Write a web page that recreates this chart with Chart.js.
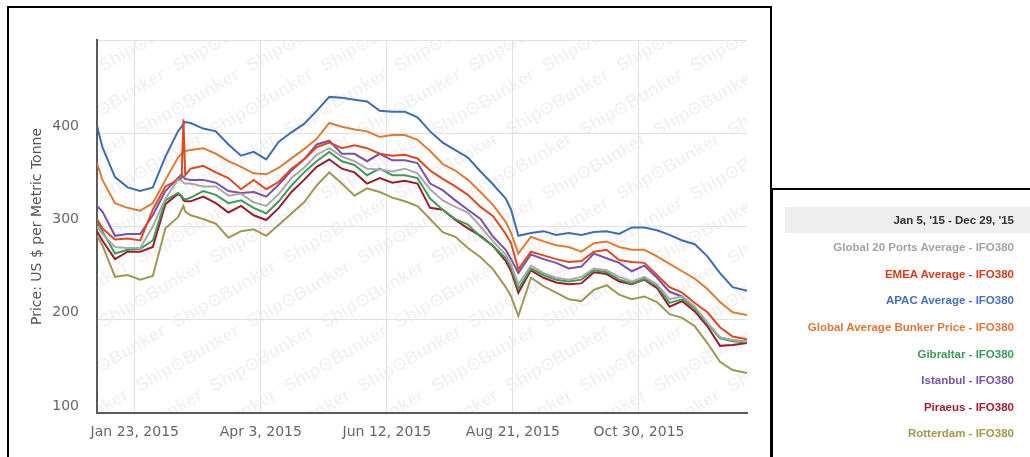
<!DOCTYPE html>
<html><head><meta charset="utf-8">
<script src="https://cdn.jsdelivr.net/npm/chart.js@4.4.1/dist/chart.umd.min.js"></script>
<style>
html,body{margin:0;padding:0;background:#fff;width:1030px;height:457px;overflow:hidden;}
#panel{position:absolute;left:7px;top:6px;width:765px;height:470px;border:2px solid #000;box-sizing:border-box;}
#wrap{position:absolute;left:0;top:0;width:772px;height:457px;}
#legend{position:absolute;left:771px;top:188px;width:270px;height:300px;border-top:2px solid #000;border-left:2px solid #000;box-sizing:border-box;background:#fff;}
#lhead{position:absolute;left:12px;top:17px;width:260px;height:26px;background:#eeeeee;}
.ltxt{position:absolute;right:27px;white-space:nowrap;font-family:"Liberation Sans",Arial,sans-serif;font-weight:bold;font-size:11.5px;line-height:14px;}
</style></head>
<body>
<div id="panel"></div>
<div id="wrap"><canvas id="c" width="772" height="457"></canvas></div>
<div id="legend"><div id="lhead"></div></div>
<script>
const dates = ['2015-01-02','2015-01-05','2015-01-12','2015-01-19','2015-01-26',
 '2015-02-02','2015-02-09','2015-02-16','2015-02-18','2015-02-19','2015-02-20','2015-02-23',
 '2015-03-02','2015-03-09','2015-03-16','2015-03-23','2015-03-30',
 '2015-04-06','2015-04-13','2015-04-20','2015-04-27',
 '2015-05-04','2015-05-11','2015-05-18','2015-05-25',
 '2015-06-01','2015-06-08','2015-06-15','2015-06-22','2015-06-29',
 '2015-07-06','2015-07-13','2015-07-20','2015-07-27',
 '2015-08-03','2015-08-10','2015-08-17','2015-08-20','2015-08-24','2015-08-31',
 '2015-09-07','2015-09-14','2015-09-21','2015-09-28',
 '2015-10-05','2015-10-12','2015-10-19','2015-10-26',
 '2015-11-02','2015-11-09','2015-11-16','2015-11-23','2015-11-30',
 '2015-12-07','2015-12-14','2015-12-21','2015-12-29'];

const global20 = [300,292,278,277,277, 300,330,350,349,347,346,346, 343,343,333,335,326, 322,335,352,363, 377,384,375,370, 362,361,359,362,357, 340,328,321,315, 300,284,270,259,238,258, 250,245,243,246, 255,253,246,241, 246,238,222,225,214, 197,181,178,177];
const emea     = [308,298,286,287,285, 318,343,350,352,415,355,362, 365,358,352,340,350, 340,348,362,372, 385,390,384,387, 384,378,376,377,373, 360,351,343,334, 321,311,292,282,254,273, 269,265,262,263, 273,275,264,262, 261,248,235,229,218, 208,192,182,179];
const apac     = [408,385,353,342,338, 342,375,402,407,410,412,411, 405,402,388,376,380, 372,391,401,410, 424,439,438,436, 434,424,423,423,417, 402,390,382,374, 359,345,330,318,290,293, 295,291,293,291, 294,295,292,299, 299,296,291,285,281, 268,250,235,231];
const globalAvg= [368,350,325,320,317, 325,350,374,378,380,381,382, 384,378,370,364,357, 356,363,373,383, 394,411,407,404, 402,396,398,398,393, 381,367,360,350, 337,323,305,293,271,289, 284,280,278,273, 282,284,278,275, 275,268,260,252,244, 233,219,208,205];
const gibraltar= [305,295,271,275,276, 285,328,336,333,330,329,331, 338,334,325,328,320, 314,327,344,358, 370,380,370,366, 355,362,355,355,352, 330,318,308,302, 289,279,266,256,233,255, 248,243,241,243, 253,251,243,239, 244,236,218,222,212, 196,180,177,176];
const istanbul = [322,316,290,292,292, 312,338,352,356,353,351,350, 350,347,338,336,337, 332,345,360,372, 388,392,378,378, 370,378,371,371,368, 346,339,328,318, 308,289,275,265,250,270, 265,261,255,257, 271,266,261,252, 258,245,230,225,213, 196,181,178,176];
const piraeus  = [295,285,265,273,273, 278,324,335,332,328,327,327, 332,325,315,322,312, 307,320,337,350, 364,372,362,358, 346,352,347,349,346, 320,318,307,298, 290,279,263,252,229,253, 245,240,238,239, 251,249,241,238, 243,234,214,220,209, 193,172,173,175];
const rotterdam= [290,280,246,248,243, 247,298,310,318,322,316,312, 308,303,288,295,297, 290,302,314,326, 344,358,346,333, 341,337,331,327,322, 308,294,289,277, 267,254,235,225,204,245, 236,229,222,220, 232,237,227,222, 225,219,206,202,193, 175,155,146,143];

const seriesNames = ['Global 20 Ports Average - IFO380','EMEA Average - IFO380','APAC Average - IFO380','Global Average Bunker Price - IFO380','Gibraltar - IFO380','Istanbul - IFO380','Piraeus - IFO380','Rotterdam - IFO380'];
const seriesValues = [global20, emea, apac, globalAvg, gibraltar, istanbul, piraeus, rotterdam];
const lineColors = ['#a9a9a9','#de4a1f','#3f6db3','#e07b35','#3f9b57','#7a52a6','#9b1d2b','#9e9852'];
const textColors = ['#a3a3a3','#d8391b','#4470c0','#e0773a','#3e9a5b','#7852a6','#a01f2e','#a09848'];
const rangeLabel = "Jan 5, '15 - Dec 29, '15";
const tickDates = ['2015-01-23','2015-04-03','2015-06-12','2015-08-21','2015-10-30'];
const tickLabels = ['Jan 23, 2015','Apr 3, 2015','Jun 12, 2015','Aug 21, 2015','Oct 30, 2015'];
const yTitle = 'Price: US $ per Metric Tonne';
const watermark = 'Ship\u2299Bunker';

const dayOf = s => { const [y,m,d] = s.split('-').map(Number); return (Date.UTC(y,m-1,d) - Date.UTC(2015,0,1)) / 86400000; };
const xs = dates.map(dayOf);
const tickDays = tickDates.map(dayOf);

const wmPlugin = {
  id: 'wm',
  beforeDraw(chart) {
    const {ctx, chartArea: a} = chart;
    ctx.save();
    ctx.beginPath();
    ctx.rect(a.left, a.top, a.right - a.left, a.bottom - a.top);
    ctx.clip();
    ctx.translate(103, 72);
    ctx.rotate(-Math.PI / 6);
    ctx.font = 'bold 18px "Liberation Sans", Arial, sans-serif';
    ctx.fillStyle = 'rgba(0,0,0,0.05)';
    for (let r = -16; r <= 16; r++) {
      for (let k = -12; k <= 12; k++) {
        ctx.fillText(watermark, k * 128 + r * 64, r * 37);
      }
    }
    ctx.restore();
  }
};

const datasets = seriesNames.map((n, i) => ({
  label: n,
  data: seriesValues[i].map((v, j) => ({x: xs[j], y: v})),
  borderColor: lineColors[i],
  backgroundColor: lineColors[i],
  borderWidth: 2,
  pointRadius: 0,
  tension: 0,
  fill: false
}));

const tickFont = {family: '"DejaVu Sans", Verdana, sans-serif', size: 14};

new Chart(document.getElementById('c'), {
  type: 'line',
  data: {datasets},
  plugins: [wmPlugin],
  options: {
    responsive: false,
    animation: false,
    devicePixelRatio: 1,
    layout: {padding: {top: 40, right: 25, left: 0, bottom: 0}},
    plugins: {legend: {display: false}, tooltip: {enabled: false}},
    scales: {
      x: {
        type: 'linear', min: 1, max: 362,
        afterBuildTicks: s => { s.ticks = tickDays.map(v => ({value: v})); },
        afterFit: s => { s.height = 44; },
        ticks: {
          autoSkip: false, maxRotation: 0, padding: 10.5, color: '#666',
          font: tickFont,
          callback: (v, i) => tickLabels[i]
        },
        grid: {color: '#e2e2e2', lineWidth: 1, drawTicks: false},
        border: {color: '#5a5a5a', width: 2}
      },
      y: {
        min: 100, max: 500,
        afterFit: s => { s.width = 97; },
        ticks: {
          stepSize: 100, padding: 18, labelOffset: -7, color: '#666',
          font: tickFont,
          callback: v => (v === 500 ? '' : v)
        },
        grid: {color: '#e2e2e2', lineWidth: 1, drawTicks: false},
        border: {color: '#5a5a5a', width: 2},
        title: {display: true, text: yTitle, color: '#555', font: tickFont, padding: {top: 28.5, bottom: 0}}
      }
    }
  }
});

// HTML legend
const legend = document.getElementById('legend');
const head = document.createElement('div');
head.className = 'ltxt';
head.style.color = '#333';
head.style.top = (220 - 188 - 2 - 7) + 'px';
head.textContent = rangeLabel;
legend.appendChild(head);
seriesNames.forEach((n, i) => {
  const d = document.createElement('div');
  d.className = 'ltxt';
  d.style.color = textColors[i];
  d.style.top = (247.3 + i * 26.57 - 188 - 2 - 7) + 'px';
  d.textContent = n;
  legend.appendChild(d);
});
</script>
</body></html>
